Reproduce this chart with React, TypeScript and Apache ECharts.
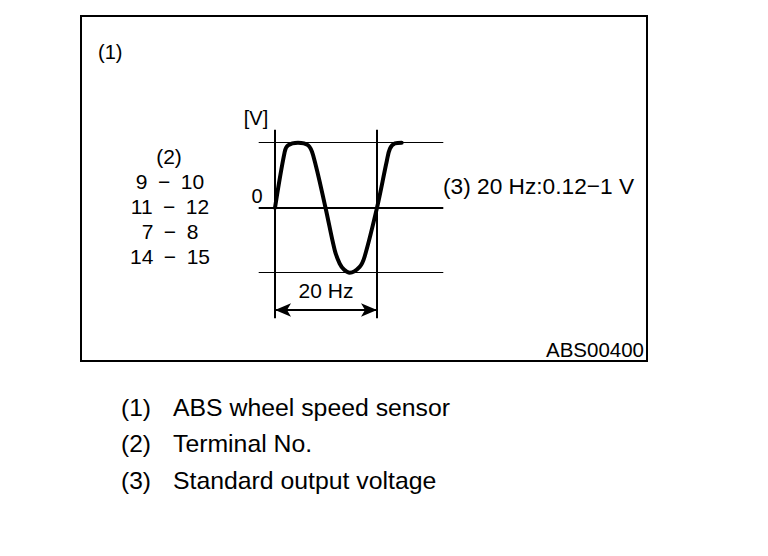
import React, { useEffect, useRef } from "react";
import * as echarts from "echarts";

// Waveform (one period = 1 unit, 20 Hz), voltage normalised to the ±1 guide lines
const waveT = [0, 0.095, 0.127, 0.225, 0.324, 0.373, 0.495, 0.585, 0.634, 0.676, 0.732, 0.83, 0.879, 1.0, 1.095, 1.127, 1.176, 1.242];
const waveV = [0, 0.86, 0.96, 1.0, 0.96, 0.81, 0, -0.65, -0.86, -0.95, -1.0, -0.91, -0.75, 0, 0.71, 0.91, 0.99, 1.0];

const levelLines = [1, -1];
const zeroLevel = 0;
const periodMarks = [0, 1];
const arrowLevel = -1.574;
const periodLabel = "20 Hz";

const yUnitLabel = "[V]";
const yZeroLabel = "0";
const figureTag = "(1)";
const terminalTitle = "(2)";
const terminals = ["9\u2002\u2212\u200210", "11\u2002\u2212\u200212", "7\u2002\u2212\u20028", "14\u2002\u2212\u200215"];
const spec = "(3) 20 Hz:0.12\u22121 V";
const figureCode = "ABS00400";
const legendNums = ["(1)", "(2)", "(3)"];
const legendTexts = ["ABS wheel speed sensor", "Terminal No.", "Standard output voltage"];

const FONT = '"Liberation Sans", Arial, Helvetica, sans-serif';

export default function App() {
  const ref = useRef<HTMLDivElement>(null);
  useEffect(() => {
    if (!ref.current) return;
    const chart = echarts.init(ref.current, undefined, { renderer: "svg" });
    const txt = (text: string, x: number, y: number, size: number, align: string = "left") => ({
      type: "text",
      x,
      y,
      silent: true,
      style: { text, fill: "#000", font: `${size}px ${FONT}`, textAlign: align, textVerticalAlign: "middle" },
    });
    const graphics: any[] = [
      { type: "rect", shape: { x: 81, y: 16, width: 566, height: 345 }, style: { fill: "none", stroke: "#000", lineWidth: 2 }, silent: true },
      txt(figureTag, 98, 52, 20),
      txt(yUnitLabel, 256, 118, 20, "center"),
      txt(yZeroLabel, 257, 196, 20, "center"),
      txt(terminalTitle, 169, 156, 21, "center"),
      ...terminals.map((t, i) => txt(t, 170, 181 + i * 25.3, 21, "center")),
      txt(spec, 443, 186, 22.7),
      txt(figureCode, 644, 349, 20.5, "right"),
      ...legendNums.map((t, i) => txt(t, 121, 407 + i * 36.5, 24.5)),
      ...legendTexts.map((t, i) => txt(t, 173, 407 + i * 36.5, 24.8)),
    ];
    chart.setOption({
      animation: false,
      backgroundColor: "#fff",
      grid: { left: 258.7, right: 768 - 443.3, top: 129.7, bottom: 556 - 318.2, containLabel: false },
      xAxis: { type: "value", min: -0.16, max: 1.65, show: false },
      yAxis: { type: "value", min: -1.7, max: 1.2, show: false },
      graphic: graphics,
      series: [
        {
          type: "line",
          data: waveT.map((t, i) => [t, waveV[i]]),
          smooth: 0.35,
          showSymbol: false,
          lineStyle: { color: "#000", width: 4, cap: "round" },
          silent: true,
          z: 5,
          markLine: {
            silent: true,
            symbol: ["none", "none"],
            animation: false,
            label: { show: false },
            data: [
              ...levelLines.map((v) => ({ yAxis: v, lineStyle: { color: "#000", width: 1, type: "solid" } })),
              { yAxis: zeroLevel, lineStyle: { color: "#000", width: 2, type: "solid" } },
              ...periodMarks.map((v) => ({ xAxis: v, lineStyle: { color: "#000", width: 2, type: "solid" } })),
              [
                { coord: [periodMarks[0], arrowLevel], symbol: "arrow", symbolSize: [10, 16], lineStyle: { color: "#000", width: 2, type: "solid" } },
                { coord: [periodMarks[1], arrowLevel], symbol: "arrow", symbolSize: [10, 16] },
              ],
            ].map((d: any) =>
              Array.isArray(d)
                ? [
                    {
                      ...d[0],
                      label: { show: true, formatter: periodLabel, position: "middle", distance: 9, color: "#000", fontSize: 21, fontFamily: FONT },
                      itemStyle: { color: "#000" },
                    },
                    { ...d[1], itemStyle: { color: "#000" } },
                  ]
                : d
            ),
          },
        },
      ],
    });
    return () => chart.dispose();
  }, []);
  return <div ref={ref} style={{ position: "absolute", left: 0, top: 0, width: 768, height: 556, background: "#fff" }} />;
}
